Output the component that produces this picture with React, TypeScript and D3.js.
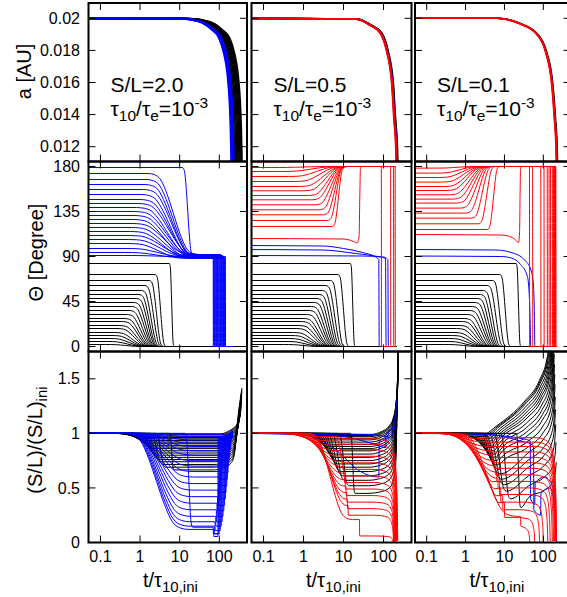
import * as d3 from "d3";

type Pt = [number, number];
type Curve = { pts: Pt[]; color: string };

// ---------- axes / labels ----------
const TIME_TICKS = [0.1, 1, 10, 100];
const TIME_LABELS = ["0.1", "1", "10", "100"];
const A_TICKS = [0.012, 0.014, 0.016, 0.018, 0.02];
const A_LABELS = ["0.012", "0.014", "0.016", "0.018", "0.02"];
const THETA_TICKS = [0, 45, 90, 135, 180];
const SL_TICKS = [0, 0.5, 1, 1.5];
const SL_LABELS = ["0", "0.5", "1", "1.5"];
const SPIN_LABELS = ["S/L=2.0", "S/L=0.5", "S/L=0.1"];

// ---------- layout ----------
const COL_X = [88.5, 251.5, 415];
const COL_W = [158.5, 160, 155.5];
const ROW_TOP = [3, 161.5, 351.5];
const ROW_BOT = [161.5, 351.5, 542.5];
const BLACK = "#000000";
const BLUE = "#0000ff";
const RED = "#ff0000";

// transition shape (fraction left vs. decades from the mid time, in units of width)
const SIG_U = [-2, -1.5, -1, -0.5, 0, 0.5, 1, 1.5, 2];
const SIG_F = [1, 0.985, 0.92, 0.74, 0.5, 0.26, 0.08, 0.015, 0];

// ---------- top row: a(t) ----------
const A_SHAPE: Pt[][] = [
  [[0, 0.02], [0.05, 0.01998], [0.15, 0.0198], [0.32, 0.0193], [0.5, 0.01875], [0.66, 0.0178], [0.8, 0.0166], [0.91, 0.0149], [0.97, 0.0132], [1, 0.0118], [1.02, 0.0105]],
  [[0, 0.02], [0.1, 0.01995], [0.22, 0.01958], [0.4, 0.0191], [0.58, 0.018], [0.79, 0.0159], [0.89, 0.0138], [1, 0.0118], [1.03, 0.0105]],
  [[0, 0.02], [0.03, 0.02], [0.108, 0.01969], [0.29, 0.0191], [0.52, 0.018], [0.77, 0.0159], [0.9, 0.0138], [1, 0.0118], [1.03, 0.0105]],
];
const A_END_BLACK = [[240, 258, 276, 294, 312, 330, 350, 370], [212, 218, 224], [222, 228]];
const A_END_BLUE = [[196, 203, 210, 217, 224, 231], [208, 212], [218]];
const A_END_RED = [[], [202, 206, 210], [212, 216, 220]];

// ---------- middle row: Theta(t) ----------
const THETA_BLACK0 = [83, 72, 66, 61, 56, 52, 48, 44, 40, 36, 32, 28, 25, 21, 18, 14, 11, 8, 5, 2];
const BLACK_W = [0.03, 0.07, 0.09, 0.11, 0.12, 0.13, 0.14, 0.15, 0.16, 0.17, 0.18, 0.19, 0.2, 0.21, 0.22, 0.23, 0.24, 0.25, 0.25, 0.25];
const THETA_BLACK_TM = [
  [6.3, 3.3, 2.6, 2.2, 1.9, 1.7, 1.55, 1.4, 1.28, 1.16, 1.05, 0.95, 0.87, 0.79, 0.72, 0.65, 0.59, 0.53, 0.48, 0.43],
  [17, 10, 7.2, 6, 5.2, 4.6, 4.1, 3.7, 3.3, 3.0, 2.7, 2.4, 2.2, 2.0, 1.8, 1.6, 1.45, 1.3, 1.15, 1.0],
  [23, 10.5, 7.5, 6, 5, 4.4, 3.9, 3.5, 3.1, 2.8, 2.5, 2.2, 2.0, 1.8, 1.6, 1.45, 1.3, 1.15, 1.0, 0.9],
];
const THETA_BLACK_END = [370, 215, 225];

const THETA_BLUE0_1 = [179, 173, 167, 162, 157, 152, 147, 143, 139, 135, 131, 127, 123, 119, 115, 111, 107, 103, 98, 94, 91];
const THETA_BLUE1_1 = [91, 92, 90, 89, 91, 88, 90, 92, 89, 91, 90, 88, 92, 90, 89, 91, 90, 88, 90, 89, 90];
const THETA_BLUE_TM_1 = [16, 7, 6.7, 6.4, 6.1, 5.8, 5.5, 5.2, 4.9, 4.6, 4.4, 4.2, 4.0, 3.8, 3.6, 3.4, 3.2, 3.0, 2.8, 2.6, 2.4];
const THETA_BLUE_W_1 = [0.07, 0.32, 0.33, 0.34, 0.35, 0.36, 0.37, 0.38, 0.39, 0.4, 0.4, 0.4, 0.4, 0.4, 0.4, 0.4, 0.4, 0.4, 0.4, 0.4, 0.4];
const BLUE_DROP_1 = [70, 72, 75, 78, 81, 84, 87, 90, 94, 98, 102, 106, 110, 114, 118, 122, 126, 130, 134, 138, 142];
const BLUE_END_1 = 215;

const THETA_BLUE_2: Pt[][] = [
  [[0.02, 101], [3, 100.5], [10, 98], [30, 94], [60, 90], [76, 87], [78, 0], [205, 0]],
  [[0.02, 97], [3, 96.5], [20, 93], [60, 90.5], [112, 88], [116, 0], [205, 0]],
  [[0.02, 91], [30, 90.5], [100, 89.5], [128, 87], [132, 0], [205, 0]],
];
const THETA_BLUE_3: Pt[][] = [
  [[0.02, 97], [6, 96.5], [18, 93], [33, 86.5], [48, 76.5], [56, 60], [59, 30], [60.5, 0], [220, 0]],
  [[0.02, 90.5], [8, 90], [15, 88.5], [26, 82], [39, 70], [44, 47], [46.5, 15], [47.5, 0], [220, 0]],
];

const THETA_RED0_2 = [179, 175, 170, 165, 160, 155.7, 151, 146.7, 141.7, 136.7, 131.7, 126, 120];
const THETA_RED_TM_2 = [1, 1.6, 2.1, 2.6, 3.1, 3.5, 4, 4.4, 4.9, 5.4, 6, 6.6, 7.5];
const THETA_RED_W_2 = [0.4, 0.38, 0.35, 0.32, 0.3, 0.27, 0.24, 0.22, 0.2, 0.17, 0.14, 0.11, 0.08];
const THETA_RED_LATE_2: Pt[] = [[0.02, 108], [10, 107.5], [18, 105], [22, 103.5], [24.5, 110], [25.5, 150], [26.5, 178], [28, 180]];
const RED_FLIP_2 = [0, 0, 0, 195, 0, 0, 178, 0, 0, 150, 0, 0, 0, 88];
const RED_END_2 = 205;

const THETA_RED0_3 = [178.4, 173.4, 169, 164.4, 160, 156, 151.7, 147.4, 143.4, 138.4, 133.4, 128.4, 122.7, 117];
const THETA_RED_TM_3 = [0.6, 0.7, 0.8, 0.9, 1.0, 1.1, 1.25, 1.4, 1.6, 1.85, 2.2, 2.7, 3.5, 5.2];
const THETA_RED_W_3 = [0.3, 0.3, 0.3, 0.29, 0.28, 0.27, 0.26, 0.24, 0.22, 0.2, 0.17, 0.14, 0.11, 0.08];
const THETA_RED_LATE_3: Pt[] = [[0.02, 112], [8, 111.5], [16, 109], [20, 106], [23, 104], [24.5, 115], [25.2, 150], [26, 178], [27.5, 180]];
const RED_FLIP_3 = [185, 195, 170, 205, 153, 200, 140, 190, 126, 210, 104, 180, 86, 53, 44];
const RED_END_3 = 220;

// ---------- bottom row: (S/L)/(S/L)ini ----------
const SL_BLACK_LEVEL = [
  [0.665, 0.69, 0.715, 0.74, 0.76, 0.78, 0.8, 0.82, 0.84, 0.86, 0.875, 0.89, 0.905, 0.92, 0.935, 0.95, 0.962, 0.974, 0.986, 0.996],
  [0.45, 0.52, 0.57, 0.61, 0.65, 0.69, 0.72, 0.75, 0.78, 0.81, 0.84, 0.86, 0.88, 0.9, 0.92, 0.94, 0.955, 0.97, 0.98, 0.99],
  [0.32, 0.4, 0.47, 0.53, 0.58, 0.63, 0.67, 0.71, 0.75, 0.78, 0.81, 0.84, 0.87, 0.89, 0.91, 0.93, 0.95, 0.97, 0.98, 0.99],
];
const SL_BLACK_END = [
  [250, 256, 262, 268, 274, 280, 286, 292, 298, 304, 310, 316, 322, 328, 334, 340, 346, 352, 358, 364],
  [205, 207, 209, 211, 213, 215, 217, 219, 221, 223, 225, 226, 227, 228, 229, 230, 230, 231, 231, 232],
  [215, 212, 209, 206, 203, 200, 197, 194, 191, 188, 185, 182, 179, 176, 173, 170, 167, 164, 161, 158],
];
const SL_RISE: Pt[][] = [
  [[0.3, 1], [0.5, 1.03], [0.66, 1.06], [0.8, 1.1], [0.91, 1.16], [0.97, 1.24], [1, 1.32], [1.02, 1.42]],
  [[0.2, 1], [0.4, 1.03], [0.6, 1.08], [0.75, 1.15], [0.87, 1.27], [0.95, 1.45], [1, 1.7], [1.04, 2.1]],
  [[0.005, 1], [0.04, 1.08], [0.2, 1.3], [0.5, 1.5], [0.8, 1.72], [0.93, 1.95], [1, 2.3]],
];
const SL_FALL: Pt[] = [[0.3, 1], [0.5, 0.98], [0.7, 0.93], [0.85, 0.8], [0.93, 0.6], [0.98, 0.3], [1, 0.02]];

const BLUE_SL_LEVEL_1 = [0.14, 0.12, 0.15, 0.19, 0.24, 0.3, 0.36, 0.42, 0.48, 0.54, 0.6, 0.65, 0.7, 0.75, 0.8, 0.84, 0.88, 0.91, 0.94, 0.97, 0.99];
const BLUE_SL_TM_1 = [17, 2.6, 2.7, 2.8, 2.9, 3.0, 3.1, 3.2, 3.3, 3.4, 3.5, 3.6, 3.7, 3.8, 3.9, 4.0, 4.1, 4.2, 4.3, 4.4, 4.5];
const BLUE_SL_W_1 = [0.05, 0.4, 0.4, 0.4, 0.4, 0.4, 0.4, 0.4, 0.4, 0.4, 0.4, 0.4, 0.4, 0.4, 0.4, 0.4, 0.4, 0.4, 0.4, 0.4, 0.4];
const BLUE_SL_DIP_1 = [0.08, 0.055, 0.08, 0.11, 0.15, 0.19, 0.24, 0.29, 0.34, 0.4, 0.46, 0.52, 0.58, 0.64, 0.7, 0.75, 0.8, 0.85, 0.89, 0.93, 0.97];
const BLUE_SL_UP_1 = [96, 92, 100, 106, 112, 118, 124, 130, 136, 142, 148, 154, 160, 166, 172, 178, 184, 190, 196, 202, 208];
const BLUE_SL_TOP_1 = [0.97, 0.97, 0.96, 0.96, 0.96, 0.97, 0.97, 0.97, 0.98, 0.98, 0.98, 0.99, 0.99, 0.99, 1, 1, 1, 1.01, 1.01, 1.02, 1.02];
const BLUE_SL_END_1 = 222;

const BLUE_SL_2: Pt[][] = [
  [[0.02, 1], [1, 0.99], [3, 0.93], [8, 0.82], [20, 0.68], [40, 0.62], [76, 0.6], [78, 0.93], [150, 0.97], [205, 1.1]],
  [[0.02, 1], [3, 0.99], [20, 0.95], [60, 0.9], [114, 0.87], [116, 0.99], [170, 1.05], [210, 1.2]],
  [[0.02, 1], [50, 0.99], [130, 0.97], [132, 1.0], [180, 1.08], [212, 1.3]],
];
const BLUE_SL_3: Pt[][] = [
  [[0.02, 1], [2, 0.995], [10, 0.975], [30, 0.95], [46, 0.93], [47, 0.4], [60, 0.35], [62, 0.55], [110, 0.6], [180, 0.5], [218, 0]],
  [[0.02, 1], [3, 0.99], [10, 0.97], [25, 0.93], [50, 0.9], [56, 0.88], [57, 0.3], [85, 0.25], [87, 0.45], [150, 0.5], [200, 0.3], [218, 0]],
];

const RED_SL_LEVEL_2 = [0.97, 0.93, 0.89, 0.84, 0.79, 0.74, 0.69, 0.63, 0.57, 0.51, 0.45, 0.39, 0.33, 0.21];
const RED_SL_TM_2 = [0.8, 1.1, 1.4, 1.7, 2.0, 2.3, 2.6, 2.9, 3.2, 3.5, 3.8, 4.1, 4.4, 4.6];
const RED_SL_W_2 = [0.4, 0.39, 0.38, 0.37, 0.36, 0.35, 0.34, 0.33, 0.32, 0.31, 0.3, 0.29, 0.28, 0.28];
const RED_SL_STEP_2 = [7, 7.5, 8, 8.5, 9, 9.5, 10, 10.5, 11, 11.5, 12, 12.5, 13, 25];
const RED_SL_AFTER_2 = [0.95, 0.9, 0.85, 0.79, 0.73, 0.67, 0.61, 0.55, 0.49, 0.43, 0.37, 0.31, 0.25, 0.06];
const RED_SL_END_2 = [226, 222, 218, 214, 210, 206, 202, 198, 194, 190, 186, 182, 178, 174];

const RED_SL_LEVEL_3 = [0.98, 0.95, 0.92, 0.88, 0.84, 0.8, 0.75, 0.7, 0.64, 0.58, 0.52, 0.45, 0.38, 0.31, 0.24];
const RED_SL_TM_3 = [0.6, 0.7, 0.8, 0.9, 1.0, 1.1, 1.25, 1.4, 1.6, 1.8, 2.0, 2.3, 2.6, 3.0, 3.5];
const RED_SL_W_3 = [0.38, 0.38, 0.38, 0.38, 0.38, 0.38, 0.38, 0.38, 0.38, 0.38, 0.38, 0.38, 0.38, 0.38, 0.38];
const RED_SL_STEP_3 = [3, 3.4, 3.8, 4.2, 4.6, 5, 5.4, 5.8, 6.3, 6.8, 7.4, 8, 9, 10, 26];
const RED_SL_AFTER_3 = [0.96, 0.92, 0.88, 0.83, 0.78, 0.73, 0.68, 0.62, 0.56, 0.5, 0.44, 0.37, 0.3, 0.23, 0.15];
const RED_SL_END_3 = [218, 215, 212, 209, 205, 200, 192, 182, 170, 150, 130, 100, 80, 60, 45];

// ---------- curve helpers ----------
const T_START = 0.02;
const start = (v: number): Pt[] => [[T_START, v]];

function add(p: Pt[], t: number, v: number) {
  const last = p[p.length - 1];
  if (last && t <= last[0]) t = last[0] * 1.002;
  p.push([t, v]);
}
function fall(p: Pt[], from: number, to: number, tm: number, w: number) {
  SIG_U.forEach((u, i) => add(p, tm * Math.pow(10, u * w), to + (from - to) * SIG_F[i]));
}
function jump(p: Pt[], t: number, v: number) {
  while (p.length > 1 && p[p.length - 1][0] >= t) p.pop();
  add(p, t, p[p.length - 1][1]);
  add(p, t * 1.01, v);
}
function holdTo(p: Pt[], t: number) {
  add(p, t, p[p.length - 1][1]);
}
function tail(p: Pt[], T: number, tpl: Pt[]) {
  const [t0, base] = p[p.length - 1];
  tpl.forEach(([u, r]) => {
    if (u * T > t0) add(p, u * T, base * r);
  });
}
const copy = (pts: Pt[]): Pt[] => pts.map((d) => [d[0], d[1]] as Pt);

function aCurves(c: number): Curve[] {
  const mk = (T: number) => {
    const p = start(A_SHAPE[c][0][1]);
    A_SHAPE[c].slice(1).forEach(([u, a]) => add(p, u * T, a));
    return p;
  };
  return [
    ...A_END_BLACK[c].map((T) => ({ pts: mk(T), color: BLACK })),
    ...A_END_BLUE[c].map((T) => ({ pts: mk(T), color: BLUE })),
    ...A_END_RED[c].map((T) => ({ pts: mk(T), color: RED })),
  ];
}

function thetaCurves(c: number): Curve[] {
  const out: Curve[] = THETA_BLACK0.map((th, i) => {
    const p = start(th);
    fall(p, th, 0, THETA_BLACK_TM[c][i], BLACK_W[i]);
    holdTo(p, THETA_BLACK_END[c]);
    return { pts: p, color: BLACK };
  });
  if (c === 0) {
    THETA_BLUE0_1.forEach((th, i) => {
      const p = start(th);
      fall(p, th, THETA_BLUE1_1[i], THETA_BLUE_TM_1[i], THETA_BLUE_W_1[i]);
      jump(p, BLUE_DROP_1[i], 0);
      holdTo(p, BLUE_END_1);
      out.push({ pts: p, color: BLUE });
    });
  } else {
    const blue = c === 1 ? THETA_BLUE_2 : THETA_BLUE_3;
    blue.forEach((b) => out.push({ pts: copy(b), color: BLUE }));
    const th0 = c === 1 ? THETA_RED0_2 : THETA_RED0_3;
    const tms = c === 1 ? THETA_RED_TM_2 : THETA_RED_TM_3;
    const ws = c === 1 ? THETA_RED_W_2 : THETA_RED_W_3;
    const late = c === 1 ? THETA_RED_LATE_2 : THETA_RED_LATE_3;
    const flips = c === 1 ? RED_FLIP_2 : RED_FLIP_3;
    const end = c === 1 ? RED_END_2 : RED_END_3;
    const reds = th0.map((th, i) => {
      const p = start(th);
      fall(p, th, 180, tms[i], ws[i]);
      return p;
    });
    reds.push(copy(late));
    reds.forEach((p, i) => {
      if (flips[i]) jump(p, flips[i], 0);
      holdTo(p, end);
      out.push({ pts: p, color: RED });
    });
  }
  return out;
}

function slCurves(c: number): Curve[] {
  const out: Curve[] = SL_BLACK_LEVEL[c].map((L, i) => {
    const p = start(1);
    fall(p, 1, L, THETA_BLACK_TM[c][i], BLACK_W[i]);
    tail(p, SL_BLACK_END[c][i], SL_RISE[c]);
    return { pts: p, color: BLACK };
  });
  if (c === 0) {
    BLUE_SL_LEVEL_1.forEach((L, i) => {
      const p = start(1);
      fall(p, 1, L, BLUE_SL_TM_1[i], BLUE_SL_W_1[i]);
      jump(p, BLUE_DROP_1[i], BLUE_SL_DIP_1[i]);
      jump(p, BLUE_SL_UP_1[i], BLUE_SL_TOP_1[i]);
      holdTo(p, BLUE_SL_END_1);
      out.push({ pts: p, color: BLUE });
    });
  } else {
    const blue = c === 1 ? BLUE_SL_2 : BLUE_SL_3;
    blue.forEach((b) => out.push({ pts: copy(b), color: BLUE }));
    const lv = c === 1 ? RED_SL_LEVEL_2 : RED_SL_LEVEL_3;
    const tms = c === 1 ? RED_SL_TM_2 : RED_SL_TM_3;
    const ws = c === 1 ? RED_SL_W_2 : RED_SL_W_3;
    const st = c === 1 ? RED_SL_STEP_2 : RED_SL_STEP_3;
    const af = c === 1 ? RED_SL_AFTER_2 : RED_SL_AFTER_3;
    const en = c === 1 ? RED_SL_END_2 : RED_SL_END_3;
    lv.forEach((L, i) => {
      const p = start(1);
      fall(p, 1, L, tms[i], ws[i]);
      jump(p, st[i], af[i]);
      tail(p, en[i], SL_FALL);
      out.push({ pts: p, color: RED });
    });
  }
  return out;
}

const FONT = "'Liberation Sans', Arial, Helvetica, sans-serif";

export default function App() {
  const yScales = [
    d3.scaleLinear().domain([0.012, 0.02]).range([146.7, 18.3]),
    d3.scaleLinear().domain([-5, 185]).range([ROW_BOT[1], ROW_TOP[1]]),
    d3.scaleLinear().domain([0, 1.75]).range([ROW_BOT[2], ROW_TOP[2]]),
  ];
  const yTicks = [A_TICKS, THETA_TICKS, SL_TICKS];
  const yLabels = [A_LABELS, THETA_TICKS.map(String), SL_LABELS];
  const builders = [aCurves, thetaCurves, slCurves];

  const panels: JSX.Element[] = [];
  for (let r = 0; r < 3; r++) {
    for (let c = 0; c < 3; c++) {
      const x0 = COL_X[c];
      const x1 = COL_X[c] + COL_W[c];
      const top = ROW_TOP[r];
      const bot = ROW_BOT[r];
      const x = d3.scaleLog().domain([0.05, 500]).range([x0, x1]);
      const y = yScales[r];
      const line = d3
        .line<Pt>()
        .x((d) => x(d[0]))
        .y((d) => y(d[1]))
        .curve(d3.curveMonotoneX);
      const curves = builders[r](c);
      const id = `clip-${r}-${c}`;
      panels.push(
        <g key={id}>
          <clipPath id={id}>
            <rect x={x0} y={top} width={x1 - x0} height={bot - top} />
          </clipPath>
          <g clipPath={`url(#${id})`} fill="none">
            {curves.map((cv, i) => (
              <path
                key={i}
                d={line(cv.pts) ?? ""}
                stroke={cv.color}
                strokeWidth={r === 0 ? 1.6 : 1}
              />
            ))}
          </g>
          {TIME_TICKS.map((t) => (
            <g key={`xt${t}`} stroke="#000" strokeWidth={1}>
              <line x1={x(t)} x2={x(t)} y1={bot} y2={bot - 7} />
              <line x1={x(t)} x2={x(t)} y1={top} y2={top + 7} />
            </g>
          ))}
          {yTicks[r].map((v) => (
            <g key={`yt${v}`} stroke="#000" strokeWidth={1}>
              <line x1={x0} x2={x0 + 7} y1={y(v)} y2={y(v)} />
              <line x1={x1} x2={x1 - 7} y1={y(v)} y2={y(v)} />
            </g>
          ))}
          <rect x={x0} y={top} width={x1 - x0} height={bot - top} fill="none" stroke="#000" strokeWidth={2} />
          {c === 0 &&
            yTicks[r].map((v, i) => (
              <text key={`yl${v}`} x={80} y={y(v)} dy="0.35em" textAnchor="end" fontSize={16}>
                {yLabels[r][i]}
              </text>
            ))}
          {r === 2 &&
            TIME_TICKS.map((t, i) => (
              <text key={`xl${t}`} x={x(t)} y={562} textAnchor="middle" fontSize={16}>
                {TIME_LABELS[i]}
              </text>
            ))}
          {r === 0 && (
            <g fontSize={21}>
              <text x={x0 + 22} y={92}>{SPIN_LABELS[c]}</text>
              <text x={x0 + 22} y={116}>
                τ<tspan fontSize={15.5} dy={5}>10</tspan>
                <tspan dy={-5}>/τ</tspan>
                <tspan fontSize={15.5} dy={5}>e</tspan>
                <tspan dy={-5}>=10</tspan>
                <tspan fontSize={15.5} dy={-8}>-3</tspan>
              </text>
            </g>
          )}
          {r === 2 && (
            <text x={x0 + 54.5} y={587} fontSize={20}>
              t/τ<tspan fontSize={15} dy={5}>10,ini</tspan>
            </text>
          )}
        </g>
      );
    }
  }

  return (
    <svg
      width={567}
      height={597}
      viewBox="0 0 567 597"
      style={{ position: "absolute", left: 0, top: 0, background: "#fff" }}
      fontFamily={FONT}
    >
      <rect width={567} height={597} fill="#fff" />
      {panels}
      <text transform="translate(31,71.5) rotate(-90)" textAnchor="middle" fontSize={20}>
        a [AU]
      </text>
      <text transform="translate(42.5,252.5) rotate(-90)" textAnchor="middle" fontSize={20}>
        Θ [Degree]
      </text>
      <text transform="translate(42,440) rotate(-90)" textAnchor="middle" fontSize={20}>
        (S/L)/(S/L)<tspan fontSize={15} dy={5}>ini</tspan>
      </text>
    </svg>
  );
}
